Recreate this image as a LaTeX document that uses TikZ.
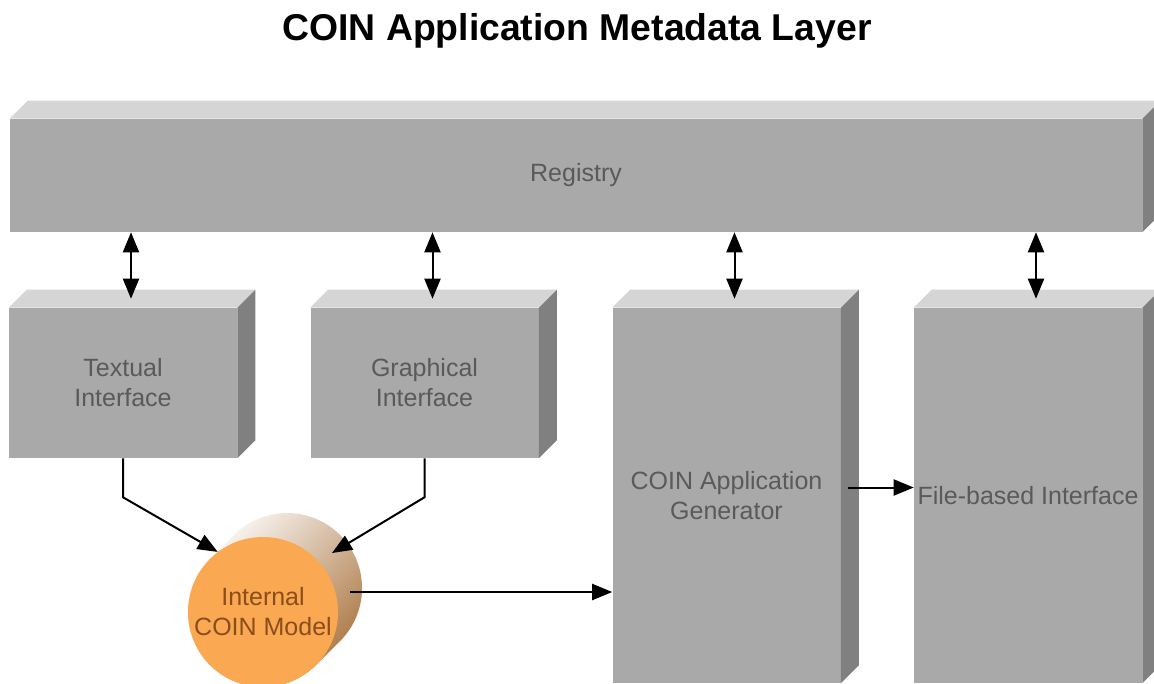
\documentclass[tikz,border=0pt]{standalone}
\usepackage{fontspec}
\setmainfont{Liberation Sans}
\usetikzlibrary{arrows.meta}

\definecolor{blockfront}{HTML}{A9A9A9}
\definecolor{blocktop}{HTML}{D5D5D5}
\definecolor{blockside}{HTML}{808080}
\definecolor{blocktext}{HTML}{5A5A5A}
\definecolor{modelfill}{HTML}{FAA852}
\definecolor{modeltext}{HTML}{8A4E1C}
\definecolor{modelshade}{HTML}{A8723C}

\tikzset{
  block/.style={fill=blockfront, text=blocktext, inner sep=0pt, align=center,
    font=\fontsize{18.75}{22.5}\selectfont},
  small block/.style={block, minimum width=171pt, minimum height=112.5pt},
  tall block/.style={block, minimum width=171pt, minimum height=281.25pt},
  link/.style={line width=1.5pt, >={Triangle[length=15pt,width=12pt]}}
}

% top and right faces of a block
\newcommand\blockfaces[1]{%
  \fill[blocktop] (#1.north west) -- ++(18,-18) -- ([shift={(18,-18)}]#1.north east) -- (#1.north east) -- cycle;
  \fill[blockside] (#1.north east) -- ++(18,-18) -- ([shift={(18,-18)}]#1.south east) -- (#1.south east) -- cycle;}

\begin{document}
\begin{tikzpicture}[x=0.75pt, y=-0.75pt]
  \useasboundingbox (0,0) rectangle (1154,683);
  % Title
  \node[font=\bfseries\fontsize{28}{34}\selectfont] (title) at (577,31) {COIN Application Metadata Layer};
  % Registry across the top
  \node[block, minimum width=849pt, minimum height=84.75pt] (reg) at (576,175.5) {Registry};
  % Interfaces and generator
  \node[small block] (ti) at (123,383) {Textual\\Interface};
  \node[small block] (gi) at (424.5,383) {Graphical\\Interface};
  \node[tall block] (gen) at (726.5,495.5) {COIN Application\\Generator};
  \node[tall block] (fbi) at (1028,495.5) {File-based Interface};
  \foreach \b in {reg,ti,gi,gen,fbi} {\blockfaces{\b}}
  % Internal model as a cylinder seen from the front
  \coordinate (icmc) at (263,612);
  \shade[top color=white, bottom color=modelshade, shading angle=45]
    ([shift={(-53,-53)}]icmc) -- ++(24,-24) arc[start angle=135, end angle=-45, radius=56.25pt]
    -- ([shift={(53,53)}]icmc) arc[start angle=-45, end angle=-225, radius=56.25pt] -- cycle;
  \node[circle, fill=modelfill, text=modeltext, inner sep=0pt, minimum size=112.5pt, align=center,
    font=\fontsize{18.75}{22.5}\selectfont] (icm) at (icmc) {Internal\\COIN Model};
  % Links to the registry
  \foreach \b in {ti,gi,gen,fbi}
    \draw[link, <->] ([shift={(8,0)}]\b.north |- reg.south) -- ([shift={(8,-9)}]\b.north);
  % Links between blocks
  \draw[link, ->] (ti.south) -- ++(0,39) -- (icm.127);
  \draw[link, ->] (gi.south) -- ++(0,39) -- ([shift={(69,-59)}]icmc);
  \draw[link, ->] ([shift={(87,-20)}]icmc) coordinate (icmout) -- (icmout -| gen.west);
  \draw[link, ->] ([shift={(7,-8)}]gen.east) coordinate (genout) -- (genout -| fbi.west);
\end{tikzpicture}
\end{document}
